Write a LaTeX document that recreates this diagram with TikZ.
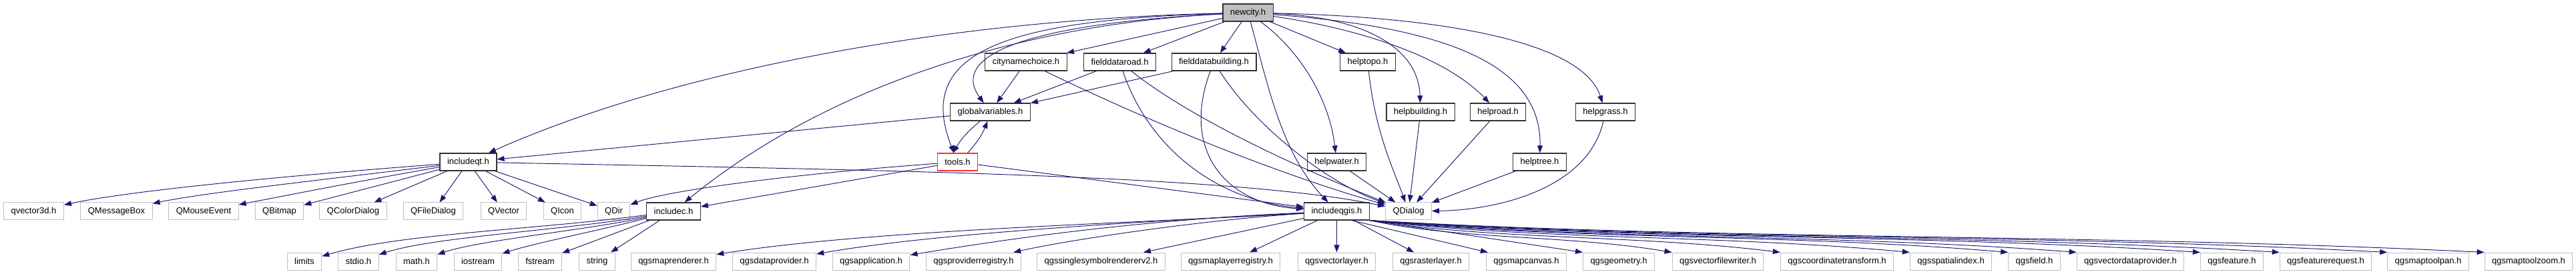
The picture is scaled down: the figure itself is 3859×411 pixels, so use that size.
\documentclass[tikz,border=0pt]{standalone}
\usepackage{fontspec}
\setmainfont{Liberation Sans}
\usetikzlibrary{arrows.meta}

\definecolor{edgeblue}{HTML}{191970}
\definecolor{boxgray}{HTML}{BFBFBF}
\definecolor{curred}{HTML}{FF3030}

\begin{document}
\begin{tikzpicture}[x=1pt, y=-1pt,
    hbox/.style={draw, fill=white, minimum height=26pt, inner xsep=11pt, inner ysep=0pt, font=\fontsize{13}{15}\selectfont},
    ibox/.style={hbox, draw=black!80, line width=1.2pt},
    xbox/.style={hbox, draw=boxgray, line width=1pt},
    rootbox/.style={ibox, fill=boxgray},
    curbox/.style={hbox, draw=curred, line width=1.2pt},
    dep/.style={-{Triangle[length=11pt, width=8pt]}, edgeblue, line width=0.95pt}]
  \useasboundingbox (0,0) rectangle (3859,411);
  % top file
  \node[rootbox] (newcity) at (1869.5,19) {newcity.h};
  % second row
  \node[ibox] (citync) at (1537,93) {citynamechoice.h};
  \node[ibox] (fdroad) at (1677.5,93) {fielddataroad.h};
  \node[ibox] (fdbuild) at (1818.5,93) {fielddatabuilding.h};
  \node[ibox] (helptopo) at (2049,93) {helptopo.h};
  % third row
  \node[ibox] (globvars) at (1483.5,168) {globalvariables.h};
  \node[ibox] (helpbuild) at (2128,168) {helpbuilding.h};
  \node[ibox] (helproad) at (2244,168) {helproad.h};
  \node[ibox] (helpgrass) at (2405,168) {helpgrass.h};
  % fourth row
  \node[ibox] (inclqt) at (701.5,243) {includeqt.h};
  \node[curbox] (tools) at (1434.5,243) {tools.h};
  \node[ibox] (helpwater) at (2002.5,243) {helpwater.h};
  \node[ibox] (helptree) at (2306.5,243) {helptree.h};
  % qt headers and the other include files
  \node[xbox] (qvec3d) at (50.5,317) {qvector3d.h};
  \node[xbox] (qmsgbox) at (174.5,317) {QMessageBox};
  \node[xbox] (qmouse) at (305,317) {QMouseEvent};
  \node[xbox] (qbitmap) at (418.5,317) {QBitmap};
  \node[xbox] (qcolordlg) at (529,317) {QColorDialog};
  \node[xbox] (qfiledlg) at (649,317) {QFileDialog};
  \node[xbox] (qvector) at (754.5,317) {QVector};
  \node[xbox] (qicon) at (842.5,317) {QIcon};
  \node[xbox] (qdir) at (919.5,317) {QDir};
  \node[ibox] (inclc) at (1009,317) {includec.h};
  \node[ibox] (inclqgis) at (2002.5,317) {includeqgis.h};
  \node[xbox] (qdialog) at (2110,317) {QDialog};
  % c headers
  \node[xbox] (limits) at (456,392) {limits};
  \node[xbox] (stdio) at (537,392) {stdio.h};
  \node[xbox] (mathh) at (624,392) {math.h};
  \node[xbox] (iostream) at (716,392) {iostream};
  \node[xbox] (fstream) at (809,392) {fstream};
  \node[xbox] (string) at (894.5,392) {string};
  % qgis headers
  \node[xbox] (maprend) at (1009,392) {qgsmaprenderer.h};
  \node[xbox] (dataprov) at (1160,392) {qgsdataprovider.h};
  \node[xbox] (app) at (1305,392) {qgsapplication.h};
  \node[xbox] (provreg) at (1458.5,392) {qgsproviderregistry.h};
  \node[xbox] (symrend) at (1649.5,392) {qgssinglesymbolrendererv2.h};
  \node[xbox] (layerreg) at (1843.5,392) {qgsmaplayerregistry.h};
  \node[xbox] (veclayer) at (2002.5,392) {qgsvectorlayer.h};
  \node[xbox] (rastlayer) at (2143.5,392) {qgsrasterlayer.h};
  \node[xbox] (canvas) at (2286.5,392) {qgsmapcanvas.h};
  \node[xbox] (geom) at (2425,392) {qgsgeometry.h};
  \node[xbox] (filewriter) at (2573.5,392) {qgsvectorfilewriter.h};
  \node[xbox] (coordtr) at (2752,392) {qgscoordinatetransform.h};
  \node[xbox] (spindex) at (2922.5,392) {qgsspatialindex.h};
  \node[xbox] (field) at (3047.5,392) {qgsfield.h};
  \node[xbox] (vecprov) at (3191.5,392) {qgsvectordataprovider.h};
  \node[xbox] (feature) at (3343.5,392) {qgsfeature.h};
  \node[xbox] (featreq) at (3484,392) {qgsfeaturerequest.h};
  \node[xbox] (toolpan) at (3637.5,392) {qgsmaptoolpan.h};
  \node[xbox] (toolzoom) at (3788,392) {qgsmaptoolzoom.h};
  % newcity.h includes
  \draw[dep] (newcity) .. controls (1400,30) and (1000,110) .. (inclqt);
  \draw[dep] (newcity) .. controls (1550,35) and (1250,120) .. (inclc);
  \draw[dep] (newcity) .. controls (1500,30) and (1370,80) .. (tools);
  \draw[dep] (newcity) .. controls (1550,35) and (1420,80) .. (globvars);
  \draw[dep] (newcity) -- (citync);
  \draw[dep] (newcity) -- (fdroad);
  \draw[dep] (newcity) -- (fdbuild);
  \draw[dep] (newcity) .. controls (1900,130) and (1920,230) .. (inclqgis);
  \draw[dep] (newcity) .. controls (1940,70) and (1990,140) .. (helpwater);
  \draw[dep] (newcity) -- (helptopo);
  \draw[dep] (newcity) .. controls (2040,25) and (2125,70) .. (helpbuild);
  \draw[dep] (newcity) .. controls (2050,45) and (2170,90) .. (helproad);
  \draw[dep] (newcity) .. controls (2150,40) and (2310,90) .. (helptree);
  \draw[dep] (newcity) .. controls (2150,25) and (2370,60) .. (helpgrass);
  % dialogs
  \draw[dep] (citync) -- (globvars);
  \draw[dep] (fdroad) -- (globvars);
  \draw[dep] (fdbuild) -- (globvars);
  \draw[dep] (citync) .. controls (1800,220) and (1980,280) .. (qdialog);
  \draw[dep] (fdroad) .. controls (1800,190) and (1990,270) .. (qdialog);
  \draw[dep] (fdbuild) .. controls (1880,190) and (1990,275) .. (qdialog);
  \draw[dep] (fdroad) .. controls (1720,220) and (1820,300) .. (inclqgis);
  \draw[dep] (fdbuild) .. controls (1770,220) and (1830,305) .. (inclqgis);
  \draw[dep] (helptopo) .. controls (2060,200) and (2090,260) .. (qdialog);
  \draw[dep] (helpbuild) -- (qdialog);
  \draw[dep] (helproad) -- (qdialog);
  \draw[dep] (helpwater) -- (qdialog);
  \draw[dep] (helptree) -- (qdialog);
  \draw[dep] (helpgrass) .. controls (2380,280) and (2250,315) .. (qdialog);
  % globals and tools
  \draw[dep] (globvars) -- (inclqt);
  \draw[dep] ([xshift=-15pt]globvars.south) to[bend right=10] ([xshift=-7pt]tools.north);
  \draw[dep] ([xshift=15pt]tools.north) to[bend right=10] ([xshift=-4pt]globvars.south);
  \draw[dep] (tools) -- (inclc);
  \draw[dep] (tools) .. controls (1200,260) and (1000,285) .. (qdir);
  \draw[dep] (tools) -- (inclqgis);
  \draw[dep] (inclqt) .. controls (1300,255) and (1850,262) .. (qdialog);
  % includeqt.h
  \draw[dep] (inclqt) .. controls (450,262) and (200,285) .. (qvec3d);
  \draw[dep] (inclqt) .. controls (480,270) and (300,290) .. (qmsgbox);
  \draw[dep] (inclqt) .. controls (520,275) and (420,295) .. (qmouse);
  \draw[dep] (inclqt) -- (qbitmap);
  \draw[dep] (inclqt) -- (qcolordlg);
  \draw[dep] (inclqt) -- (qfiledlg);
  \draw[dep] (inclqt) -- (qvector);
  \draw[dep] (inclqt) -- (qicon);
  \draw[dep] (inclqt) -- (qdir);
  % includec.h
  \draw[dep] (inclc) .. controls (800,345) and (600,350) .. (limits);
  \draw[dep] (inclc) .. controls (850,345) and (650,355) .. (stdio);
  \draw[dep] (inclc) .. controls (880,345) and (720,360) .. (mathh);
  \draw[dep] (inclc) .. controls (900,345) and (800,365) .. (iostream);
  \draw[dep] (inclc) -- (fstream);
  \draw[dep] (inclc) -- (string);
  % includeqgis.h
  \draw[dep] (inclqgis) .. controls (1700,335) and (1300,345) .. (maprend);
  \draw[dep] (inclqgis) .. controls (1700,333) and (1400,350) .. (dataprov);
  \draw[dep] (inclqgis) .. controls (1700,330) and (1500,360) .. (app);
  \draw[dep] (inclqgis) .. controls (1800,330) and (1600,360) .. (provreg);
  \draw[dep] (inclqgis) -- (symrend);
  \draw[dep] (inclqgis) -- (layerreg);
  \draw[dep] (inclqgis) -- (veclayer);
  \draw[dep] (inclqgis) -- (rastlayer);
  \draw[dep] ([xshift=22pt]inclqgis.south) -- (canvas);
  \draw[dep] (inclqgis.south east) -- (geom.north west);
  \draw[dep] (inclqgis.south east) .. controls (2188,360) and (2346,352) .. (filewriter.north west);
  \draw[dep] (inclqgis.south east) .. controls (2237,360) and (2452,352) .. (coordtr.north west);
  \draw[dep] (inclqgis.south east) .. controls (2295,360) and (2578,352) .. (spindex.north west);
  \draw[dep] (inclqgis.south east) .. controls (2339,360) and (2673,350) .. (field.north west);
  \draw[dep] (inclqgis.south east) .. controls (2370,360) and (2740,350) .. (vecprov.north west);
  \draw[dep] (inclqgis.south east) .. controls (2425,360) and (2860,350) .. (feature.north west);
  \draw[dep] (inclqgis.south east) .. controls (2461,360) and (2938,350) .. (featreq.north west);
  \draw[dep] (inclqgis.south east) .. controls (2510,360) and (3043,350) .. (toolpan.north west);
  \draw[dep] (inclqgis.south east) .. controls (2553,360) and (3137,350) .. (toolzoom.north west);
\end{tikzpicture}
\end{document}
